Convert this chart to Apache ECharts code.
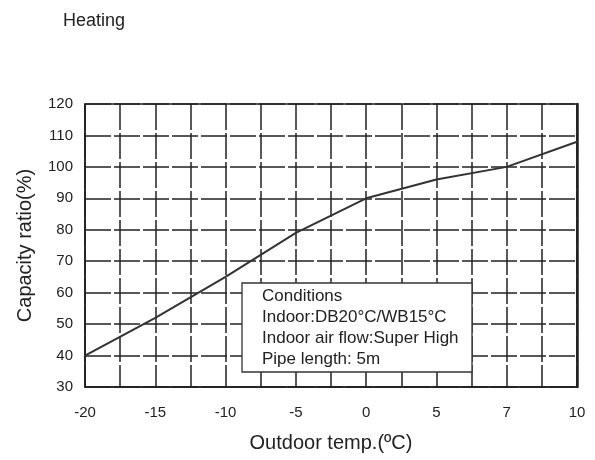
<!DOCTYPE html>
<html>
<head>
<meta charset="utf-8">
<style>
  html, body { margin: 0; padding: 0; background: #fff; }
  #chart { width: 595px; height: 460px; }
</style>
<script src="https://cdn.jsdelivr.net/npm/echarts@6/dist/echarts.min.js"></script>
</head>
<body>
<div id="chart"></div>
<script>
// Outdoor temperatures shown as evenly spaced ticks along the x axis
const tempLabels = ['-20', '-15', '-10', '-5', '0', '5', '7', '10'];
// Heating capacity ratio (%) at each outdoor temperature
const capacityRatio = [40, 52, 65, 79, 90, 96, 100, 108];
// Y axis range
const yMin = 30, yMax = 120, yStep = 10;
// Test conditions printed in the note box
const conditionLines = [
  'Conditions',
  'Indoor:DB20°C/WB15°C',
  'Indoor air flow:Super High',
  'Pipe length: 5m'
];

const FONT = "'Liberation Sans', Arial, sans-serif";
const INK = '#222';
// long dashes with short gaps for the grid
const gridDash = { color: INK, width: 1.5, type: [26, 3], dashOffset: 0 };

const chart = echarts.init(document.getElementById('chart'), null, { renderer: 'canvas' });

chart.setOption({
  animation: false,
  backgroundColor: '#fff',
  title: {
    text: 'Heating',
    left: 58,
    top: 7,
    textStyle: { fontFamily: FONT, fontSize: 18, fontWeight: 'normal', color: INK }
  },
  grid: {
    left: 85, right: 18, top: 104, bottom: 73,
    show: true, borderColor: INK, borderWidth: 1.5, backgroundColor: 'transparent'
  },
  xAxis: {
    type: 'value',
    min: 0,
    max: tempLabels.length - 1,
    interval: 0.5,
    name: 'Outdoor temp.(ºC)',
    nameLocation: 'middle',
    nameGap: 46,
    nameTextStyle: { fontFamily: FONT, fontSize: 20, color: INK },
    axisLine: { show: true, lineStyle: { color: INK, width: 1.5 } },
    axisTick: { show: false },
    axisLabel: {
      margin: 18,
      fontFamily: FONT, fontSize: 15, color: INK,
      showMinLabel: true, showMaxLabel: true,
      formatter: v => (Number.isInteger(v) ? tempLabels[v] : '')
    },
    splitLine: { show: true, lineStyle: gridDash }
  },
  yAxis: [{
    type: 'value',
    min: yMin,
    max: yMax,
    interval: yStep,
    name: 'Capacity ratio(%)',
    nameLocation: 'middle',
    nameGap: 50,
    nameTextStyle: { fontFamily: FONT, fontSize: 20, color: INK },
    axisLine: { show: true, lineStyle: { color: INK, width: 1.5 } },
    axisTick: { show: false },
    axisLabel: { margin: 12, fontFamily: FONT, fontSize: 15, color: INK },
    splitLine: { show: true, lineStyle: gridDash }
  }, {
    // heavier right-hand frame edge
    type: 'value',
    position: 'right',
    min: yMin,
    max: yMax,
    interval: yStep,
    axisLine: { show: true, lineStyle: { color: INK, width: 2.5 } },
    axisTick: { show: false },
    axisLabel: { show: false },
    splitLine: { show: false }
  }],
  series: [{
    type: 'line',
    data: capacityRatio.map((v, i) => [i, v]),
    showSymbol: false,
    smooth: false,
    lineStyle: { color: '#333', width: 2 },
    z: 3
  }],
  graphic: [{
    type: 'rect',
    z: 100,
    shape: { x: 242, y: 283, width: 230, height: 89 },
    style: { fill: '#ffffff', stroke: '#333', lineWidth: 1.3 }
  }, {
    type: 'text',
    z: 101,
    x: 262,
    y: 286,
    style: {
      text: conditionLines.join('\n'),
      font: '17px ' + FONT,
      fill: INK,
      lineHeight: 21,
      textVerticalAlign: 'top'
    }
  }]
});
</script>
</body>
</html>
